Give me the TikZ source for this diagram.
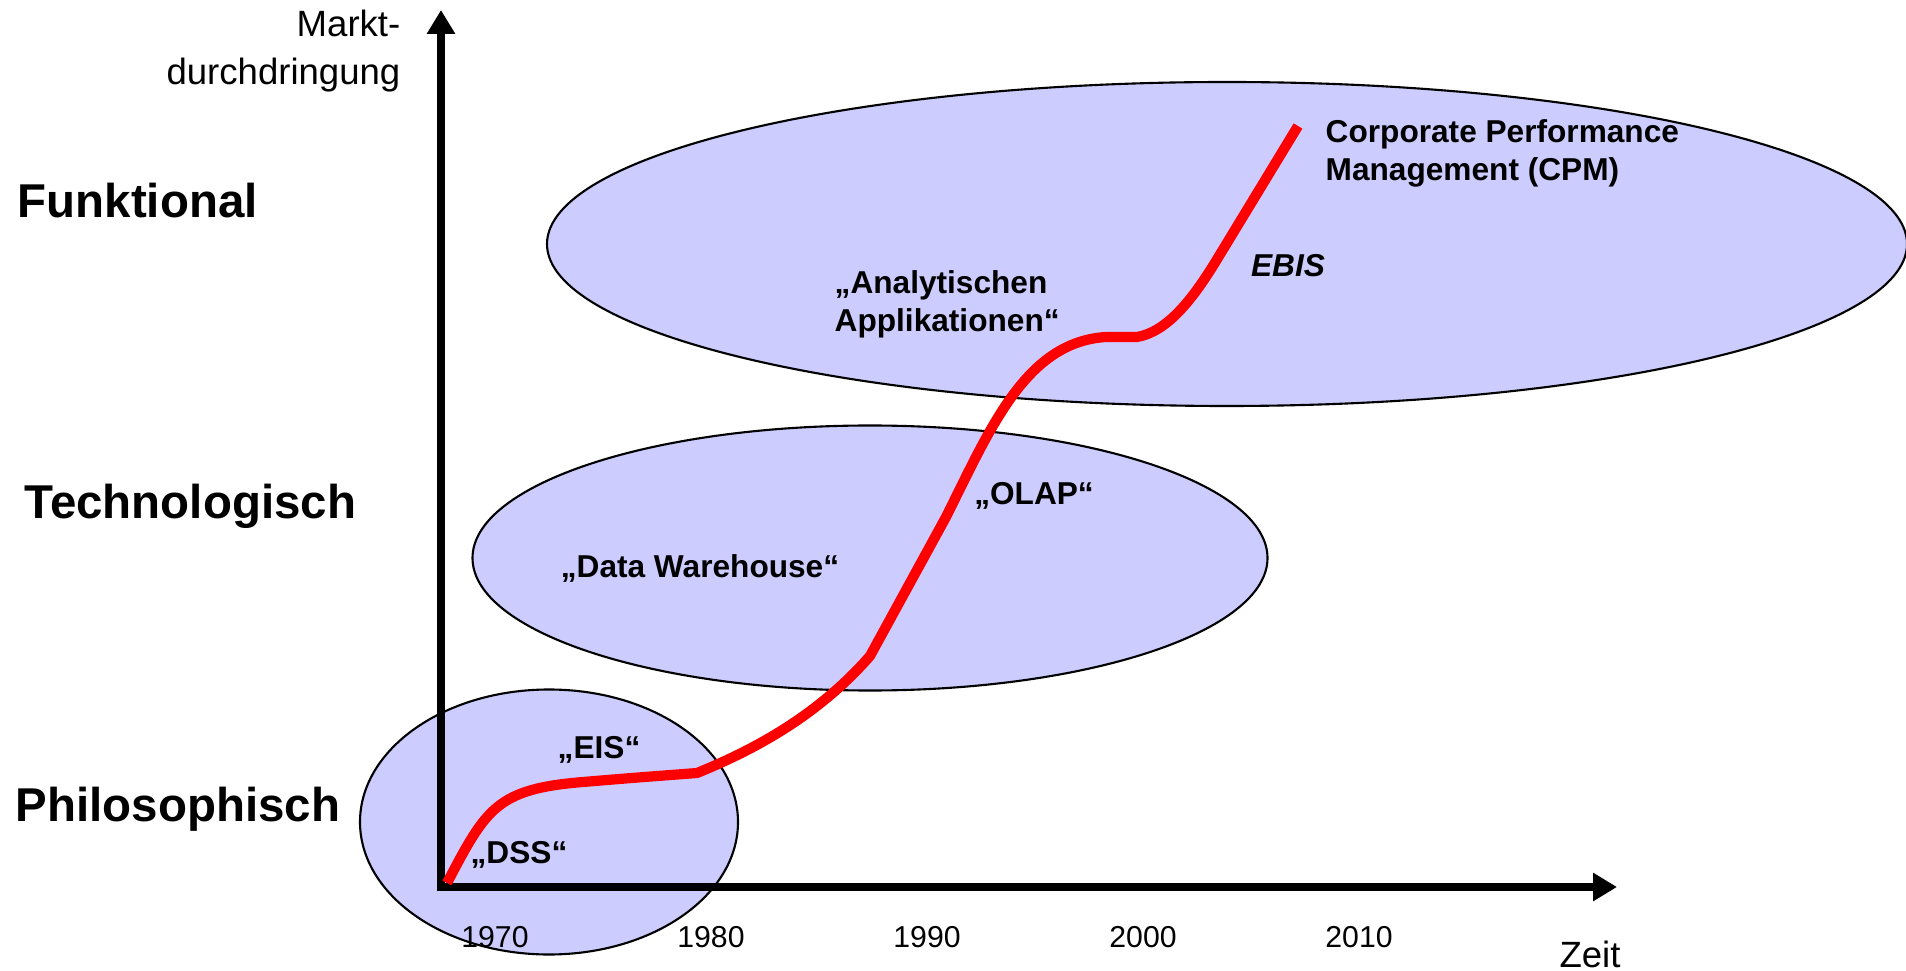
\documentclass[tikz,border=0pt]{standalone}
\usepackage{fontspec}
\setmainfont{Liberation Sans}
\usepackage{tikz}
\usetikzlibrary{arrows.meta,positioning,shapes.geometric}
\definecolor{phasefill}{HTML}{CCCCFF}
\definecolor{trendred}{HTML}{FF0000}
\tikzset{
  phasezone/.style={
    ellipse,
    draw=black,
    fill=phasefill,
    line width=0.6pt,
    inner sep=0pt
  },
  levellabel/.style={
    font=\fontsize{13.5}{16}\selectfont\bfseries,
    anchor=west,
    inner sep=0pt
  },
  termlabel/.style={
    font=\fontsize{9}{10.8}\selectfont\bfseries,
    align=left,
    inner sep=0pt
  },
  axislabel/.style={font=\fontsize{10.4}{13.8}\selectfont, inner sep=0pt},
  yearlabel/.style={font=\fontsize{8.6}{10}\selectfont, inner sep=0pt},
  axisarrow/.style={{Triangle[length=2.4mm,width=2.7mm]}-{Triangle[length=2.4mm,width=2.7mm]}, line width=2.3pt, draw=black},
  trendline/.style={line width=2.9pt, draw=trendred, line join=round}
}

\begin{document}
\begin{tikzpicture}
\useasboundingbox (-4.41,-0.83) rectangle (14.65,8.87);

\node[phasezone, minimum width=13.6cm, minimum height=3.24cm] (funkzone) at (7.86,6.43) {};
\node[phasezone, minimum width=7.95cm, minimum height=2.65cm] (techzone) at (4.29,3.29) {};
\node[phasezone, minimum width=3.78cm, minimum height=2.65cm] (philozone) at (1.08,0.65) {};

\coordinate (origin) at (0,0);
\coordinate (ytop) at (0,8.77);
\coordinate (xend) at (11.76,0);
\draw[axisarrow] (ytop) -- (origin) -- (xend);

\draw[trendline] (0.06,0.04) .. controls (0.45,0.78) and (0.55,0.98) .. (1.42,1.05)
  .. controls (1.9,1.09) .. (2.56,1.14)
  .. controls (3.2,1.40) and (3.8,1.75) .. (4.29,2.31)
  -- (5.05,3.70)
  .. controls (5.5,4.6) and (5.85,5.45) .. (6.65,5.50)
  -- (6.96,5.50)
  .. controls (7.25,5.55) and (7.5,5.85) .. (7.75,6.26)
  -- (8.57,7.61);

\node[axislabel, anchor=east, align=right] (ylabel) at (-0.40,8.36) {Markt-\\durchdringung};
\node[axislabel] (xlabel) at (11.49,-0.67) {Zeit};
\foreach \yr [count=\i from 0] in {1970,1980,1990,2000,2010}
  \node[yearlabel] (year\yr) at ({0.54+2.16*\i},-0.50) {\yr};

\node[levellabel] (funktional) at (-4.24,6.86) {Funktional};
\node[levellabel] (technologisch) at (-4.17,3.81) {Technologisch};
\node[levellabel] (philosophisch) at (-4.26,0.78) {Philosophisch};

\node[termlabel] (dss) at (0.78,0.32) {„DSS“};
\node[termlabel] (eis) at (1.58,1.37) {„EIS“};
\node[termlabel] (dwh) at (2.59,3.19) {„Data Warehouse“};
\node[termlabel] (olap) at (5.93,3.91) {„OLAP“};
\node[termlabel, anchor=west] (analytics) at (3.93,5.83) {„Analytischen\\Applikationen“};
\node[termlabel, font=\fontsize{9}{10.8}\selectfont\bfseries\itshape] (ebis) at (8.47,6.21) {EBIS};
\node[termlabel, anchor=west] (cpm) at (8.84,7.34) {Corporate Performance\\Management (CPM)};
\end{tikzpicture}
\end{document}
